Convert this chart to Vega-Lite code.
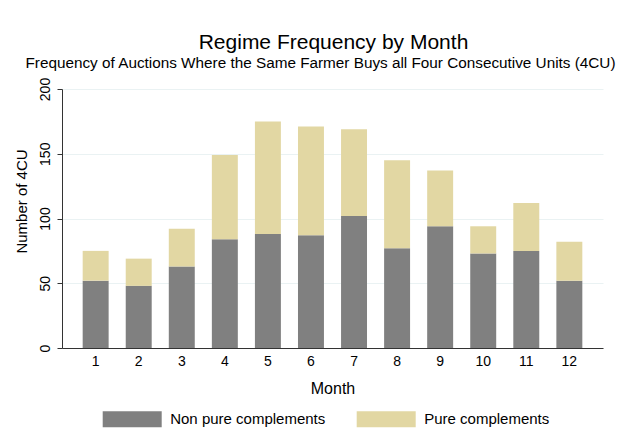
{
  "$schema": "https://vega.github.io/schema/vega-lite/v6.json",
  "autosize": {"type": "none"},
  "padding": {"left": 62, "top": 89, "right": 15, "bottom": 98},
  "width": 541,
  "height": 259,
  "background": "white",
  "config": {
    "font": "Liberation Sans",
    "view": {"stroke": null},
    "axis": {"labelColor": "black", "titleColor": "black", "titleFontWeight": "normal", "domainColor": "#333333", "tickColor": "#333333"}
  },
  "title": {
    "text": "Regime Frequency by Month",
    "fontSize": 21,
    "fontWeight": "normal",
    "color": "black",
    "anchor": "middle",
    "dx": 1,
    "offset": 2
  },
  "data": {
    "values": [
      {"month": 1, "type": "Non pure complements", "count": 52},
      {"month": 2, "type": "Non pure complements", "count": 48},
      {"month": 3, "type": "Non pure complements", "count": 63},
      {"month": 4, "type": "Non pure complements", "count": 84},
      {"month": 5, "type": "Non pure complements", "count": 88},
      {"month": 6, "type": "Non pure complements", "count": 87},
      {"month": 7, "type": "Non pure complements", "count": 102},
      {"month": 8, "type": "Non pure complements", "count": 77},
      {"month": 9, "type": "Non pure complements", "count": 94},
      {"month": 10, "type": "Non pure complements", "count": 73},
      {"month": 11, "type": "Non pure complements", "count": 75},
      {"month": 12, "type": "Non pure complements", "count": 52},
      {"month": 1, "type": "Pure complements", "count": 23},
      {"month": 2, "type": "Pure complements", "count": 21},
      {"month": 3, "type": "Pure complements", "count": 29},
      {"month": 4, "type": "Pure complements", "count": 65},
      {"month": 5, "type": "Pure complements", "count": 87},
      {"month": 6, "type": "Pure complements", "count": 84},
      {"month": 7, "type": "Pure complements", "count": 67},
      {"month": 8, "type": "Pure complements", "count": 68},
      {"month": 9, "type": "Pure complements", "count": 43},
      {"month": 10, "type": "Pure complements", "count": 21},
      {"month": 11, "type": "Pure complements", "count": 37},
      {"month": 12, "type": "Pure complements", "count": 30}
    ]
  },
  "resolve": {"axis": {"x": "independent"}},
  "layer": [
    {
      "mark": {"type": "bar"},
      "encoding": {
        "x": {
          "field": "month", "type": "ordinal",
          "scale": {"paddingInner": 0.397, "paddingOuter": 0.48},
          "axis": {
            "orient": "bottom", "title": "Month", "labelAngle": 0, "labelFontSize": 14,
            "ticks": false, "labelPadding": 6, "domainWidth": 1,
            "titleFontSize": 16, "titleBaseline": "alphabetic", "titleY": 45
          }
        },
        "y": {
          "field": "count", "type": "quantitative", "stack": "zero",
          "scale": {"domain": [0, 200], "nice": false},
          "axis": {
            "title": "Number of 4CU", "values": [0, 50, 100, 150, 200],
            "labelAngle": -90, "labelAlign": "center", "labelBaseline": "bottom", "labelFontSize": 14,
            "tickSize": 5, "labelPadding": 5,
            "grid": true, "gridColor": "#eaf2f3", "gridWidth": 1,
            "titleFontSize": 15, "titleAngle": -90, "titleAlign": "center", "titleBaseline": "middle",
            "titleX": -41, "titleY": 112
          }
        },
        "order": {"field": "type", "type": "nominal", "sort": "ascending"},
        "color": {
          "field": "type", "type": "nominal",
          "scale": {"domain": ["Non pure complements", "Pure complements"], "range": ["#808080", "#e2d7a3"]},
          "legend": {
            "title": null, "orient": "none", "legendX": 40.7, "legendY": 300.5,
            "direction": "horizontal", "columns": 2, "columnPadding": 31, "padding": 0,
            "symbolType": "M-1,-0.271H1V0.271H-1Z", "symbolSize": 3481, "symbolStrokeWidth": 0,
            "symbolOpacity": 1, "labelFontSize": 15, "labelOffset": 8.5, "labelColor": "black", "labelLimit": 300
          }
        }
      }
    },
    {
      "mark": {"type": "rule", "opacity": 0, "strokeWidth": 0},
      "encoding": {
        "x": {
          "field": "month", "type": "ordinal",
          "axis": {
            "orient": "top", "title": "Frequency of Auctions Where the Same Farmer Buys all Four Consecutive Units (4CU)",
            "labels": false, "ticks": false, "domain": false, "grid": false,
            "titleFontSize": 15.3, "titleAlign": "center", "titleBaseline": "alphabetic",
            "titleX": 258, "titleY": -21.7
          }
        }
      }
    }
  ]
}
